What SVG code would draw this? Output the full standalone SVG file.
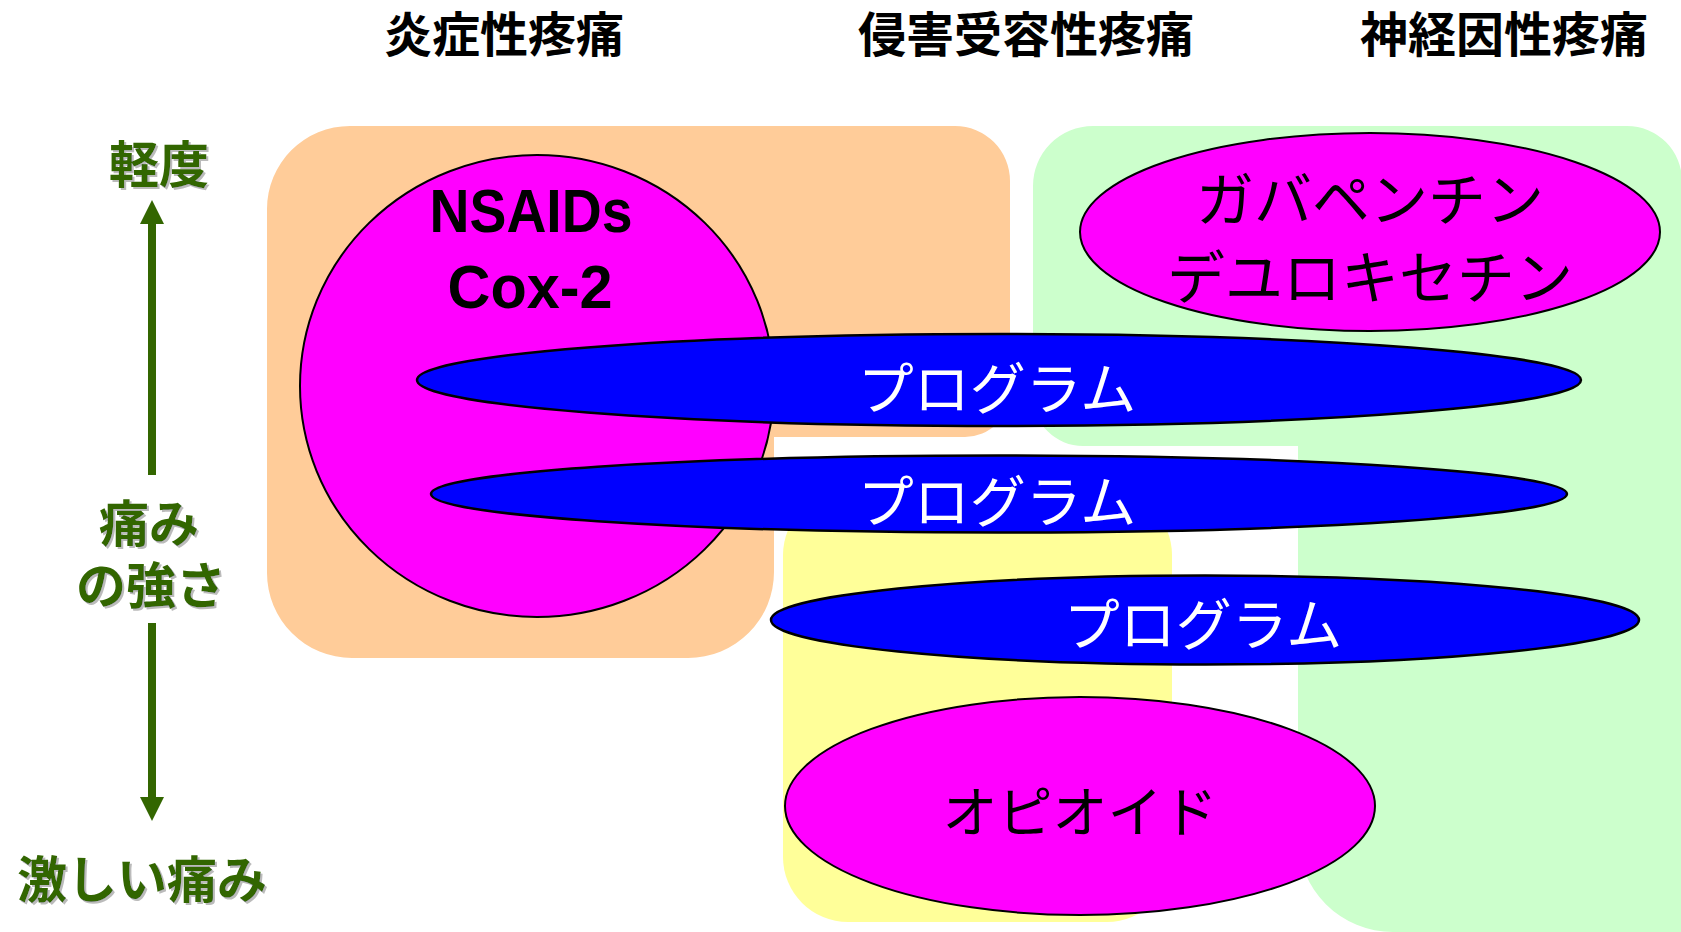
<svg xmlns="http://www.w3.org/2000/svg" width="1681" height="932" viewBox="0 0 1681 932">
<defs>
<filter id="shadow" x="-10%" y="-10%" width="130%" height="130%">
<feOffset in="SourceAlpha" dx="2" dy="2" result="off"/>
<feFlood flood-color="#BBBBBB"/>
<feComposite in2="off" operator="in" result="sh"/>
<feMerge><feMergeNode in="sh"/><feMergeNode in="SourceGraphic"/></feMerge>
</filter>
</defs>
<style>
.title{font-family:"Noto Sans CJK JP","Noto Sans",sans-serif;font-weight:bold;font-size:48px;fill:#000;text-anchor:middle}
.axis{font-family:"Noto Sans CJK JP","Noto Sans",sans-serif;font-weight:bold;font-size:50px;fill:#336600;text-anchor:middle}
.prog{font-family:"Noto Sans CJK JP","Noto Sans",sans-serif;font-size:56px;fill:#FFFFFF;text-anchor:middle}
.drug{font-family:"Noto Sans CJK JP","Noto Sans",sans-serif;font-size:58px;fill:#000;text-anchor:middle}
.latin{font-family:"Liberation Sans",Arial,sans-serif;font-weight:bold;font-size:62px;fill:#000;text-anchor:middle}
.mag{fill:#FF00FF;stroke:#000;stroke-width:2}
.blue{fill:#0000FF;stroke:#000;stroke-width:2.5}
.arr{stroke:#336600;stroke-width:8;fill:none}
</style>
<rect width="1681" height="932" fill="#FFFFFF"/>
<g id="titles">
<text class="title" x="504" y="52">炎症性疼痛</text>
<text class="title" x="1026" y="52">侵害受容性疼痛</text>
<text class="title" x="1504" y="52">神経因性疼痛</text>
</g>
<g id="region-inflammatory">
<path d="M350,126 H955 A55,55 0 0 1 1010,181 V392 A45,45 0 0 1 965,437 H774 V572 A86,86 0 0 1 688,658 H352 A85,85 0 0 1 267,573 V209 A83,83 0 0 1 350,126 Z" fill="#FFCC99"/>
</g>
<g id="region-neuropathic">
<path d="M1033,186 A60,60 0 0 1 1093,126 H1627 A55,55 0 0 1 1682,181 V932 H1393 A95,95 0 0 1 1298,837 V446 H1083 A50,50 0 0 1 1033,396 Z" fill="#CCFFCC"/>
</g>
<g id="region-nociceptive">
<rect x="783" y="490" width="389" height="432" rx="65" ry="65" fill="#FFFF99"/>
</g>
<g id="node-nsaids">
<ellipse class="mag" cx="537" cy="386" rx="237" ry="231"/>
<text class="latin" x="531" y="232" textLength="203" lengthAdjust="spacingAndGlyphs">NSAIDs</text>
<text class="latin" x="530" y="308" textLength="165" lengthAdjust="spacingAndGlyphs">Cox-2</text>
</g>
<g id="node-gabapentin">
<ellipse class="mag" cx="1370" cy="232" rx="290" ry="99"/>
<text class="drug" x="1370" y="221">ガバペンチン</text>
<text class="drug" x="1370" y="299">デユロキセチン</text>
</g>
<g id="node-program1">
<ellipse class="blue" cx="999" cy="380" rx="582" ry="46"/>
<text class="prog" x="997" y="409">プログラム</text>
</g>
<g id="node-program2">
<ellipse class="blue" cx="999" cy="494" rx="568" ry="38.5"/>
<text class="prog" x="997" y="522">プログラム</text>
</g>
<g id="node-program3">
<ellipse class="blue" cx="1205" cy="620" rx="434" ry="44.5"/>
<text class="prog" x="1203" y="645">プログラム</text>
</g>
<g id="node-opioid">
<ellipse class="mag" cx="1080" cy="806" rx="295" ry="109"/>
<text class="drug" x="1080" y="832" style="font-size:55px">オピオイド</text>
</g>
<g id="axis-labels" filter="url(#shadow)">
<text class="axis" x="159" y="183">軽度</text>
<text class="axis" x="149" y="542">痛み</text>
<text class="axis" x="151" y="604">の強さ</text>
<text class="axis" x="142" y="898">激しい痛み</text>
</g>
<g id="connectors">
<line class="arr" x1="152" y1="222" x2="152" y2="475"/>
<polygon points="152,200 140,224 164,224" fill="#336600"/>
<line class="arr" x1="152" y1="623" x2="152" y2="799"/>
<polygon points="140,797 164,797 152,821" fill="#336600"/>
</g>
</svg>
